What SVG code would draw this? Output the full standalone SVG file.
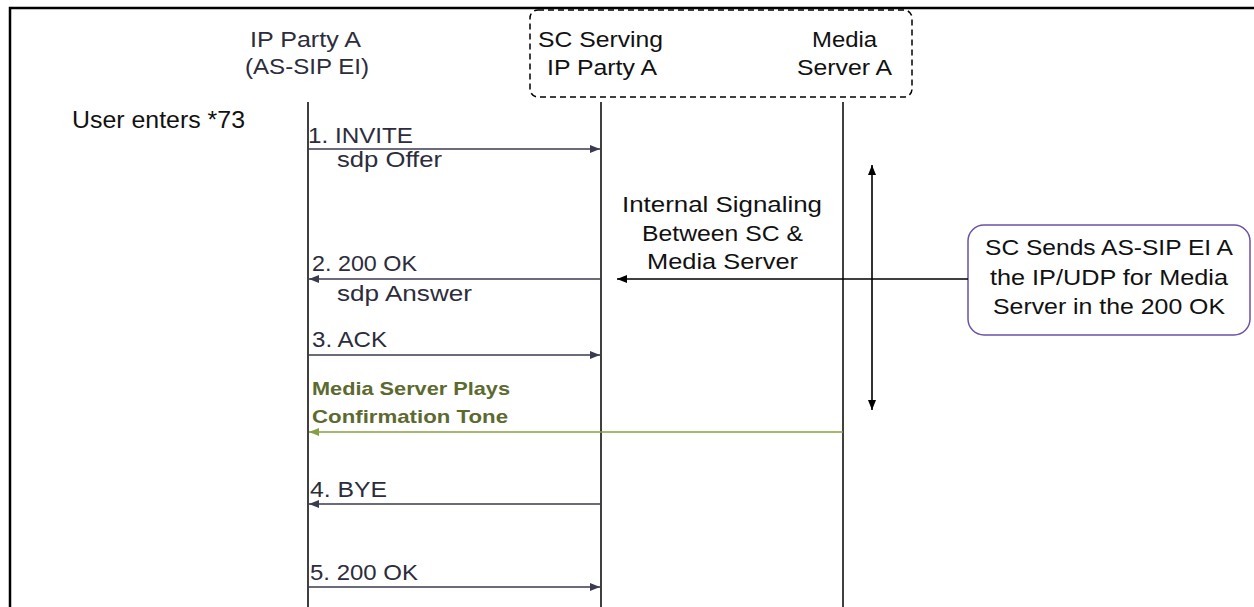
<svg xmlns="http://www.w3.org/2000/svg" width="1254" height="607" viewBox="0 0 1254 607">
<style>
text{font-family:"Liberation Sans",Arial,sans-serif;font-size:22px;fill:#222230}
.hd{fill:#111}
.msg{fill:#2c2c3c}
.grn{font-weight:bold;font-size:19px;fill:#5c6a30}
.life{stroke:#000;stroke-width:1.5;fill:none}
.arr{stroke:#3a3a50;stroke-width:1.5;fill:none;marker-end:url(#mDark)}
.arrB{stroke:#000;stroke-width:1.6;fill:none;marker-end:url(#mBlack)}
.arrG{stroke:#86a040;stroke-width:1.5;fill:none;marker-end:url(#mGreen)}
</style>
<defs>
<marker id="mDark" markerWidth="11" markerHeight="9" refX="10" refY="4" orient="auto" markerUnits="userSpaceOnUse"><path d="M0,0 L10,4 L0,8 z" fill="#3a3a50"/></marker>
<marker id="mBlack" markerWidth="11" markerHeight="9" refX="10" refY="4" orient="auto" markerUnits="userSpaceOnUse"><path d="M0,0 L10,4 L0,8 z" fill="#000"/></marker>
<marker id="mGreen" markerWidth="11" markerHeight="9" refX="10" refY="4" orient="auto" markerUnits="userSpaceOnUse"><path d="M0,0 L10,4 L0,8 z" fill="#86a040"/></marker>
<marker id="mStart" markerWidth="11" markerHeight="9" refX="0" refY="4" orient="auto" markerUnits="userSpaceOnUse"><path d="M10,0 L0,4 L10,8 z" fill="#000"/></marker>
</defs>
<rect width="1254" height="607" fill="#fff"/>
<path d="M10,607 V8 H1254" fill="none" stroke="#000" stroke-width="2.5"/>

<g id="partyA">
<text class="msg" x="250" y="47" textLength="111" lengthAdjust="spacingAndGlyphs">IP Party A</text>
<text class="msg" x="245" y="74" textLength="124" lengthAdjust="spacingAndGlyphs">(AS-SIP EI)</text>
<line class="life" x1="308" y1="102" x2="308" y2="607"/>
</g>

<g id="scGroup">
<rect x="530" y="10" width="382" height="87" rx="8" fill="none" stroke="#000" stroke-width="1.5" stroke-dasharray="6,4"/>
</g>

<g id="sc">
<text class="hd" x="538" y="47" textLength="125" lengthAdjust="spacingAndGlyphs">SC Serving</text>
<text class="hd" x="547" y="75" textLength="110" lengthAdjust="spacingAndGlyphs">IP Party A</text>
<line class="life" x1="601" y1="102" x2="601" y2="607"/>
</g>

<g id="media">
<text class="hd" x="812" y="47" textLength="65" lengthAdjust="spacingAndGlyphs">Media</text>
<text class="hd" x="797" y="75" textLength="95" lengthAdjust="spacingAndGlyphs">Server A</text>
<line class="life" x1="843" y1="102" x2="843" y2="607"/>
</g>

<g id="userNote">
<text class="hd" x="72" y="128" style="font-size:23px" textLength="173" lengthAdjust="spacingAndGlyphs">User enters *73</text>
</g>

<g id="internalNote">
<text class="hd" x="622" y="212" textLength="200" lengthAdjust="spacingAndGlyphs">Internal Signaling</text>
<text class="hd" x="642" y="241" textLength="161" lengthAdjust="spacingAndGlyphs">Between SC &amp;</text>
<text class="hd" x="647" y="269" textLength="151" lengthAdjust="spacingAndGlyphs">Media Server</text>
</g>

<g id="scNote">
<rect x="968" y="225" width="282" height="110" rx="16" fill="#fff" stroke="#6b52a8" stroke-width="1.5"/>
<text class="hd" x="985" y="255" textLength="248" lengthAdjust="spacingAndGlyphs">SC Sends AS-SIP EI A</text>
<text class="hd" x="990" y="285" textLength="238" lengthAdjust="spacingAndGlyphs">the IP/UDP for Media</text>
<text class="hd" x="993" y="314" textLength="232" lengthAdjust="spacingAndGlyphs">Server in the 200 OK</text>
</g>

<g id="connectors">
<line class="arr" x1="308" y1="149" x2="600" y2="149"/>
<line class="arr" x1="601" y1="279" x2="309" y2="279"/>
<line class="arrB" x1="968" y1="279" x2="617" y2="279"/>
<line class="arr" x1="308" y1="355" x2="600" y2="355"/>
<line class="arrG" x1="843" y1="432" x2="309" y2="432"/>
<line class="arr" x1="601" y1="504" x2="309" y2="504"/>
<line class="arr" x1="308" y1="587" x2="600" y2="587"/>
<line stroke="#000" stroke-width="1.6" x1="872" y1="165" x2="872" y2="410" marker-start="url(#mStart)" marker-end="url(#mBlack)"/>
</g>

<g id="labels">
<text class="msg" x="308" y="143" textLength="105" lengthAdjust="spacingAndGlyphs">1. INVITE</text>
<text class="msg" x="337" y="167" textLength="105" lengthAdjust="spacingAndGlyphs">sdp Offer</text>
<text class="msg" x="312" y="271" textLength="105" lengthAdjust="spacingAndGlyphs">2. 200 OK</text>
<text class="msg" x="337" y="301" textLength="135" lengthAdjust="spacingAndGlyphs">sdp Answer</text>
<text class="msg" x="312" y="347" textLength="75" lengthAdjust="spacingAndGlyphs">3. ACK</text>
<text class="grn" x="312" y="395" textLength="198" lengthAdjust="spacingAndGlyphs">Media Server Plays</text>
<text class="grn" x="312" y="423" textLength="196" lengthAdjust="spacingAndGlyphs">Confirmation Tone</text>
<text class="msg" x="310" y="497" textLength="77" lengthAdjust="spacingAndGlyphs">4. BYE</text>
<text class="msg" x="310" y="580" textLength="108" lengthAdjust="spacingAndGlyphs">5. 200 OK</text>
</g>
</svg>
